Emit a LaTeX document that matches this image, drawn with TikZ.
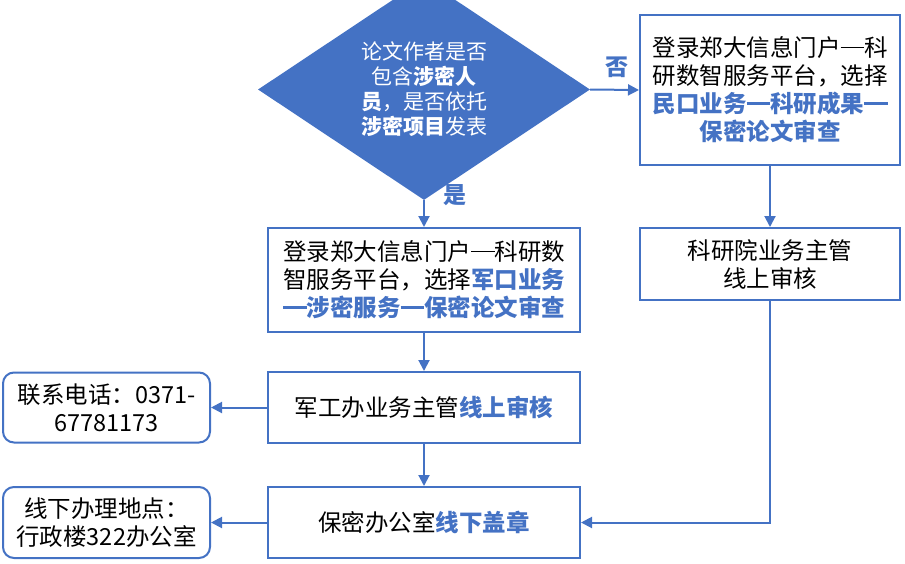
\documentclass[tikz,border=0pt]{standalone}
\usepackage{fontspec}
\setmainfont{Noto Sans CJK SC}
\usetikzlibrary{shapes.geometric,arrows.meta}
\definecolor{mblue}{HTML}{4472C4}
\newcommand{\hl}[1]{\textcolor{mblue}{\bfseries #1}}
\newcommand{\emd}{\rule[0.36em]{1em}{0.07em}}
\newcommand{\emdb}{\rule[0.34em]{1em}{0.12em}}
\tikzset{
  box/.style={draw=mblue, line width=2pt, fill=white, align=center, inner sep=0pt,
    font=\fontsize{23.5}{28}\selectfont},
  rbox/.style={box, rounded corners=11pt},
  conn/.style={draw=mblue, line width=2pt, -{Triangle[length=11pt,width=11pt]}},
  lbl/.style={text=mblue, font=\fontsize{23}{26}\selectfont\bfseries},
}
\begin{document}
\begin{tikzpicture}[x=1pt,y=-1pt]
\useasboundingbox (0,0) rectangle (905,563);
% diamond
\node[diamond, fill=mblue, draw=none, minimum width=332pt, minimum height=177pt, inner sep=0pt,
  text=white, align=center, font=\fontsize{21}{25}\selectfont] (d) at (424,89.5)
  {论文作者是否\\包含\textbf{涉密人}\\\textbf{员}，是否依托\\\textbf{涉密项目}发表};
% boxes
\node[box, minimum width=260pt, minimum height=150pt] (tr) at (770,90)
  {登录郑大信息门户\emd 科\\研数智服务平台，选择\\\hl{民口业务\emdb 科研成果\emdb}\\\hl{保密论文审查}};
\node[box, minimum width=260pt, minimum height=72pt] (ky) at (770,264)
  {科研院业务主管\\线上审核};
\node[box, minimum width=312pt, minimum height=104pt] (b1) at (424,280)
  {登录郑大信息门户\emd 科研数\\智服务平台，选择\hl{军口业务}\\\hl{\emdb 涉密服务\emdb 保密论文审查}};
\node[box, minimum width=312pt, minimum height=71pt] (b2) at (424,407.5)
  {军工办业务主管\hl{线上审核}};
\node[box, minimum width=312pt, minimum height=71pt] (b3) at (424,522.5)
  {保密办公室\hl{线下盖章}};
\node[rbox, minimum width=207pt, minimum height=70pt] (l1) at (106.5,407.5)
  {联系电话：0371-\\67781173};
\node[rbox, minimum width=207pt, minimum height=71pt] (l2) at (106.5,522.5)
  {线下办理地点：\\行政楼322办公室};
% connectors
\draw[conn] (d.south) -- (b1.north);
\draw[conn] (d.east) -- (tr.west);
\draw[conn] (tr.south) -- (ky.north);
\draw[conn] (b1.south) -- (b2.north);
\draw[conn] (b2.south) -- (b3.north);
\draw[conn] (ky.south) |- (b3.east);
\draw[conn] (b2.west) -- (l1.east);
\draw[conn] (b3.west) -- (l2.east);
% labels
\node[lbl] (yes) at (455,195) {是};
\node[lbl] (no) at (617,67) {否};
\end{tikzpicture}
\end{document}
